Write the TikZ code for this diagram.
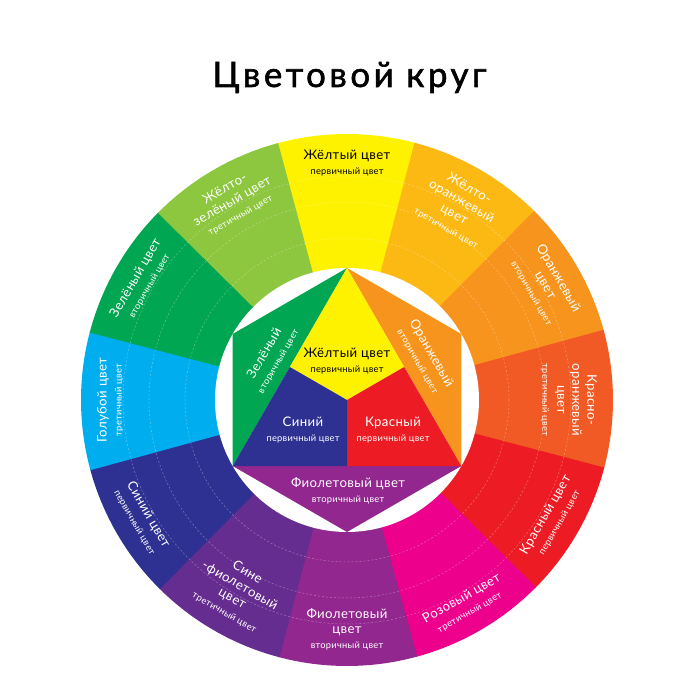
\documentclass[tikz,border=0pt]{standalone}
\usepackage{fontspec}
\setmainfont{Lato}

\definecolor{cYel}{HTML}{FFF200}
\definecolor{cYelOrg}{HTML}{FDB913}
\definecolor{cOrg}{HTML}{F7941D}
\definecolor{cRedOrg}{HTML}{F15A24}
\definecolor{cRed}{HTML}{ED1C24}
\definecolor{cPink}{HTML}{EC008C}
\definecolor{cViol}{HTML}{92278F}
\definecolor{cBluViol}{HTML}{662D91}
\definecolor{cBlu}{HTML}{2E3192}
\definecolor{cCyan}{HTML}{00AEEF}
\definecolor{cGrn}{HTML}{00A651}
\definecolor{cYelGrn}{HTML}{8DC63F}

\newcommand{\lsub}[1]{{\fontsize{9.3}{10.5}\selectfont\addfontfeatures{LetterSpace=3}#1}}

\begin{document}
\begin{tikzpicture}[x=1pt,y=1pt,
  ringlab/.style={text=white, align=center, inner sep=0pt, font=\fontsize{13.2}{15}\selectfont\addfontfeatures{LetterSpace=3}},
  hexlab/.style={ringlab},
  ringdash/.style={white, opacity=0.35, line width=0.5pt, dash pattern=on 2pt off 2pt}]
  \useasboundingbox (-347,-298) rectangle (351,400);

  % ---- title ----
  \node[anchor=base, font=\fontsize{35}{40}\selectfont\addfontfeatures{FakeBold=1.6,LetterSpace=10}] (title) at (2.5,313) {Цветовой круг};

  % ---- outer ring: twelve colours ----
  \fill[cYel]     (0,0) -- (75:266)   arc[start angle=75,   end angle=105.3, radius=266] -- cycle;
  \fill[cYelOrg]  (0,0) -- (45:266)   arc[start angle=45,   end angle=75.3,  radius=266] -- cycle;
  \fill[cOrg]     (0,0) -- (15:266)   arc[start angle=15,   end angle=45.3,  radius=266] -- cycle;
  \fill[cRedOrg]  (0,0) -- (-15:266)  arc[start angle=-15,  end angle=15.3,  radius=266] -- cycle;
  \fill[cRed]     (0,0) -- (-45:266)  arc[start angle=-45,  end angle=-14.7, radius=266] -- cycle;
  \fill[cPink]    (0,0) -- (-75:266)  arc[start angle=-75,  end angle=-44.7, radius=266] -- cycle;
  \fill[cViol]    (0,0) -- (-105:266) arc[start angle=-105, end angle=-74.7, radius=266] -- cycle;
  \fill[cBluViol] (0,0) -- (-135:266) arc[start angle=-135, end angle=-104.7,radius=266] -- cycle;
  \fill[cBlu]     (0,0) -- (-165:266) arc[start angle=-165, end angle=-134.7,radius=266] -- cycle;
  \fill[cCyan]    (0,0) -- (165:266)  arc[start angle=165,  end angle=195.3, radius=266] -- cycle;
  \fill[cGrn]     (0,0) -- (135:266)  arc[start angle=135,  end angle=165.3, radius=266] -- cycle;
  \fill[cYelGrn]  (0,0) -- (105:266)  arc[start angle=105,  end angle=135.3, radius=266] -- cycle;

  % faint guide circles
  \draw[ringdash] (0,0) circle[radius=162];
  \draw[ringdash] (0,0) circle[radius=198];
  \draw[ringdash] (0,0) circle[radius=224];

  \fill[white] (0,0) circle[radius=132];

  % ---- ring labels ----
  \node[ringlab, text=black, anchor=north] (lYel) at (90:250) {Жёлтый цвет\\\lsub{первичный цвет}};
  \node[ringlab, anchor=north, rotate=-30] (lYelOrg) at (60:250) {Жёлто-\\оранжевый\\цвет\\\lsub{третичный цвет}};
  \node[ringlab, anchor=north, rotate=-60] (lOrg) at (30:250) {Оранжевый\\цвет\\\lsub{вторичный цвет}};
  \node[ringlab, anchor=north, rotate=-90] (lRedOrg) at (0:250) {Красно-\\оранжевый\\цвет\\\lsub{третичный цвет}};
  \node[ringlab, anchor=south, rotate=60] (lRed) at (-30:250) {Красный цвет\\\lsub{первичный цвет}};
  \node[ringlab, anchor=south, rotate=30] (lPink) at (-60:250) {Розовый цвет\\\lsub{третичный цвет}};
  \node[ringlab, anchor=south] (lViol) at (-90:250) {Фиолетовый\\цвет\\\lsub{вторичный цвет}};
  \node[ringlab, anchor=south, rotate=-30] (lBluViol) at (-120:250) {Сине\\-фиолетовый\\цвет\\\lsub{третичный цвет}};
  \node[ringlab, anchor=south, rotate=-60] (lBlu) at (-150:250) {Синий цвет\\\lsub{первичный цвет}};
  \node[ringlab, anchor=north, rotate=90] (lCyan) at (180:250) {Голубой цвет\\\lsub{третичный цвет}};
  \node[ringlab, anchor=north, rotate=60] (lGrn) at (150:250) {Зелёный цвет\\\lsub{вторичный цвет}};
  \node[ringlab, anchor=north, rotate=30] (lYelGrn) at (120:250) {Жёлто-\\зелёный цвет\\\lsub{третичный цвет}};

  % ---- inner hexagon ----
  \fill[cGrn]  (90:132) -- (150:132) -- (210:132) -- cycle;
  \fill[cOrg]  (90:132) -- (30:132) -- (-30:132) -- cycle;
  \fill[cViol] (210:132) -- (-30:132) -- (-90:132) -- cycle;
  \fill[cYel]  (90:132) -- (150:66) -- (0,0) -- (30:66) -- cycle;
  \fill[cRed]  (0,0) -- (30:66) -- (-30:132) -- (-90:66) -- cycle;
  \fill[cBlu]  (0,0) -- (-90:66) -- (210:132) -- (150:66) -- cycle;

  \node[hexlab, text=black] (inYel) at (0,39) {Жёлтый цвет\\\lsub{первичный цвет}};
  \node[hexlab, rotate=60] (inGrn) at (-76,43) {Зелёный\\\lsub{вторичный цвет}};
  \node[hexlab, rotate=-60] (inOrg) at (78,43) {Оранжевый\\\lsub{вторичный цвет}};
  \node[hexlab] (inBlu) at (-44,-30) {Синий\\\lsub{первичный цвет}};
  \node[hexlab] (inRed) at (46,-30) {Красный\\\lsub{первичный цвет}};
  \node[hexlab] (inViol) at (1,-91) {Фиолетовый цвет\\\lsub{вторичный цвет}};
\end{tikzpicture}
\end{document}
